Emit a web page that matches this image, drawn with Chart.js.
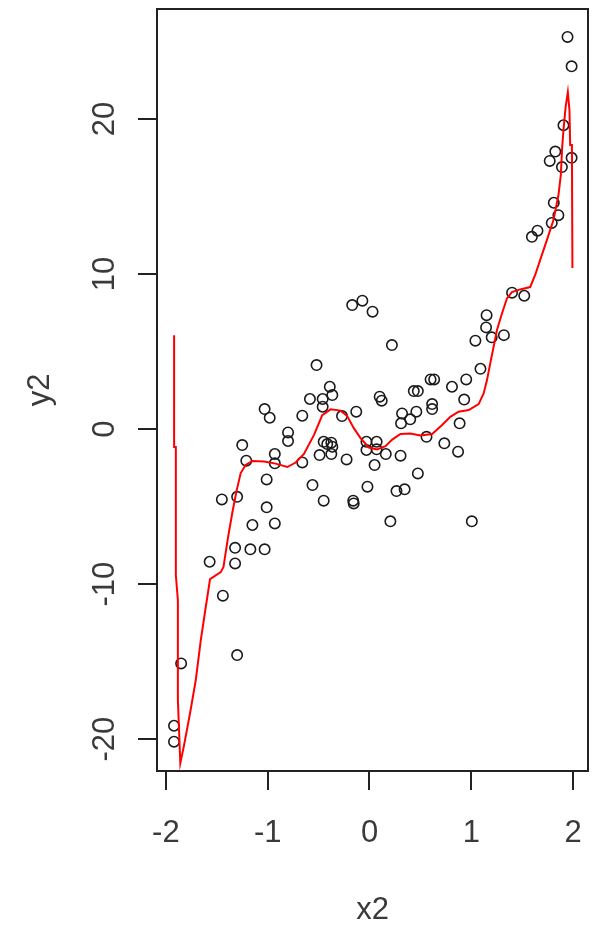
<!DOCTYPE html>
<html>
<head>
<meta charset="utf-8">
<script src="https://cdn.jsdelivr.net/npm/chart.js@4.4.1/dist/chart.umd.min.js"></script>
<style>
  html, body { margin: 0; padding: 0; background: #fff; }
  #wrap { width: 595px; height: 930px; }
</style>
</head>
<body>
<div id="wrap"><canvas id="plot" width="595" height="930"></canvas></div>
<script>
// axis ticks
const xTicks = [-2, -1, 0, 1, 2];
const yTicks = [-20, -10, 0, 10, 20];

// observed points (x2, y2)
const x2 = [-1.92, -1.92, -1.85, -1.57, -1.45, -1.44, -1.32, -1.32, -1.30, -1.30,
  -1.25, -1.21, -1.17, -1.15, -1.03, -1.03, -1.01, -1.01, -0.98, -0.93,
  -0.93, -0.93, -0.80, -0.80, -0.66, -0.66, -0.585, -0.56, -0.52, -0.49,
  -0.46, -0.46, -0.45, -0.45, -0.415, -0.39, -0.375, -0.375, -0.365, -0.365,
  -0.27, -0.225, -0.17, -0.16, -0.155, -0.13, -0.07, -0.03, -0.03, -0.02,
  0.03, 0.05, 0.07, 0.07, 0.10, 0.12, 0.16, 0.205, 0.22, 0.265,
  0.305, 0.31, 0.32, 0.345, 0.40, 0.435, 0.46, 0.475, 0.475, 0.56,
  0.60, 0.615, 0.615, 0.635, 0.735, 0.81, 0.87, 0.885, 0.93, 0.95,
  1.005, 1.04, 1.09, 1.145, 1.15, 1.20, 1.32, 1.40, 1.52, 1.595,
  1.65, 1.77, 1.79, 1.81, 1.825, 1.855, 1.89, 1.905, 1.945, 1.985, 1.985];
const y2 = [-20.17, -19.14, -15.12, -8.56, -4.54, -10.75, -7.66, -8.67, -4.37, -14.58,
  -1.03, -2.04, -7.76, -6.19, 1.29, -7.76, -3.25, -5.05, 0.73, -6.09,
  -1.61, -2.21, -0.22, -0.77, 0.86, -2.15, 1.94, -3.61, 4.13, -1.68,
  1.94, 1.44, -0.82, -4.62, -0.97, 2.73, -0.88, -1.61, 2.19, -1.14,
  0.84, -1.96, 8.0, -4.62, -4.8, 1.12, 8.28, -0.82, -1.35, -3.72,
  7.57, -2.32, -0.82, -1.31, 2.09, 1.83, -1.61, -5.95, 5.42, -4.0,
  -1.72, 0.37, 1.01, -3.89, 0.63, 2.45, 1.12, 2.45, -2.86, -0.5,
  3.2, 1.61, 1.29, 3.2, -0.92, 2.73, -1.46, 0.37, 1.9, 3.2,
  -5.95, 5.70, 3.89, 6.56, 7.35, 5.92, 6.06, 8.8, 8.6, 12.4,
  12.8, 17.3, 13.3, 14.6, 17.9, 13.8, 16.9, 19.6, 25.3, 23.4, 17.5];

// fitted curve (red), in x order
const fitX = [-1.919, -1.919, -1.902, -1.902, -1.882, -1.882, -1.858, -1.821, -1.762, -1.706,
  -1.657, -1.608, -1.566, -1.461, -1.434, -1.389, -1.346, -1.304, -1.265, -1.216,
  -1.150, -1.036, -0.922, -0.807, -0.725, -0.644, -0.546, -0.464, -0.382, -0.284,
  -0.219, -0.154, -0.088, -0.007, 0.075, 0.157, 0.223, 0.304, 0.402, 0.500,
  0.615, 0.713, 0.794, 0.875, 0.974, 1.072, 1.121, 1.154, 1.186, 1.219,
  1.252, 1.301, 1.350, 1.399, 1.480, 1.578, 1.627, 1.676, 1.742, 1.807,
  1.856, 1.879, 1.892, 1.905, 1.926, 1.948, 1.964, 1.971, 1.988, 1.993];
const fitY = [6.06, -1.16, -1.16, -9.42, -11.03, -17.48, -21.55, -20.39, -18.32, -16.19,
  -13.61, -11.48, -9.68, -9.23, -8.90, -6.97, -5.35, -3.94, -2.84, -2.32,
  -2.06, -2.10, -2.23, -2.45, -2.16, -1.61, -0.39, 0.90, 1.27, 1.19,
  0.84, 0.06, -0.58, -1.19, -1.31, -1.10, -0.68, -0.32, -0.28, -0.42,
  -0.32, 0.26, 0.79, 1.12, 1.23, 1.61, 2.30, 3.16, 4.24, 5.31,
  6.39, 7.46, 8.43, 8.84, 9.01, 9.16, 9.94, 10.90, 12.19, 13.48,
  15.10, 16.39, 18.13, 19.29, 20.77, 21.74, 20.58, 18.32, 18.32, 10.39];

const FONT = '31px "Liberation Sans", Arial, sans-serif';
const INK = "#222";
const TEXT_INK = "#3a3a3a";

const pts = x2.map((x, i) => ({ x: x, y: y2[i] }));
const fit = fitX.map((x, i) => ({ x: x, y: fitY[i] }));

// box + R style tick labels and titles
const rAxes = {
  id: "rAxes",
  afterDraw(chart) {
    const ctx = chart.ctx;
    const a = chart.chartArea;
    const xs = chart.scales.x;
    const ys = chart.scales.y;
    ctx.save();
    ctx.strokeStyle = INK;
    ctx.lineWidth = 2;
    ctx.strokeRect(a.left, a.top, a.right - a.left, a.bottom - a.top);

    ctx.fillStyle = TEXT_INK;
    ctx.font = FONT;
    ctx.textAlign = "center";
    ctx.textBaseline = "alphabetic";
    xTicks.forEach((v) => {
      ctx.fillText(String(v), xs.getPixelForValue(v), 842);
    });
    ctx.fillText("x2", (a.left + a.right) / 2, 919);

    yTicks.forEach((v) => {
      ctx.save();
      ctx.translate(114, ys.getPixelForValue(v));
      ctx.rotate(-Math.PI / 2);
      ctx.fillText(String(v), 0, 0);
      ctx.restore();
    });
    ctx.save();
    ctx.translate(49, (a.top + a.bottom) / 2);
    ctx.rotate(-Math.PI / 2);
    ctx.fillText("y2", 0, 0);
    ctx.restore();
    ctx.restore();
  },
};

const tickGrid = {
  drawOnChartArea: false,
  drawTicks: true,
  tickLength: 19,
  color: INK,
  lineWidth: 2,
};

new Chart(document.getElementById("plot").getContext("2d"), {
  type: "scatter",
  data: {
    datasets: [
      {
        data: pts,
        showLine: false,
        pointStyle: "circle",
        pointRadius: 5.2,
        pointBorderWidth: 1.6,
        borderColor: "#1a1a1a",
        backgroundColor: "rgba(0,0,0,0)",
        order: 1,
      },
      {
        data: fit,
        showLine: true,
        pointRadius: 0,
        borderColor: "#ff0000",
        borderWidth: 2,
        tension: 0,
        fill: false,
        order: 0,
      },
    ],
  },
  options: {
    responsive: false,
    animation: false,
    devicePixelRatio: 1,
    layout: { padding: { top: 9, right: 7, left: 0, bottom: 0 } },
    plugins: { legend: { display: false }, tooltip: { enabled: false } },
    scales: {
      x: {
        type: "linear",
        min: -2.087,
        max: 2.146,
        ticks: { display: false },
        grid: tickGrid,
        border: { display: false },
        afterBuildTicks: (s) => { s.ticks = xTicks.map((v) => ({ value: v })); },
        afterFit: (s) => { s.height = 159; },
      },
      y: {
        type: "linear",
        min: -22.06,
        max: 27.1,
        ticks: { display: false },
        grid: tickGrid,
        border: { display: false },
        afterBuildTicks: (s) => { s.ticks = yTicks.map((v) => ({ value: v })); },
        afterFit: (s) => { s.width = 157; },
      },
    },
  },
  plugins: [rAxes],
});
</script>
</body>
</html>
